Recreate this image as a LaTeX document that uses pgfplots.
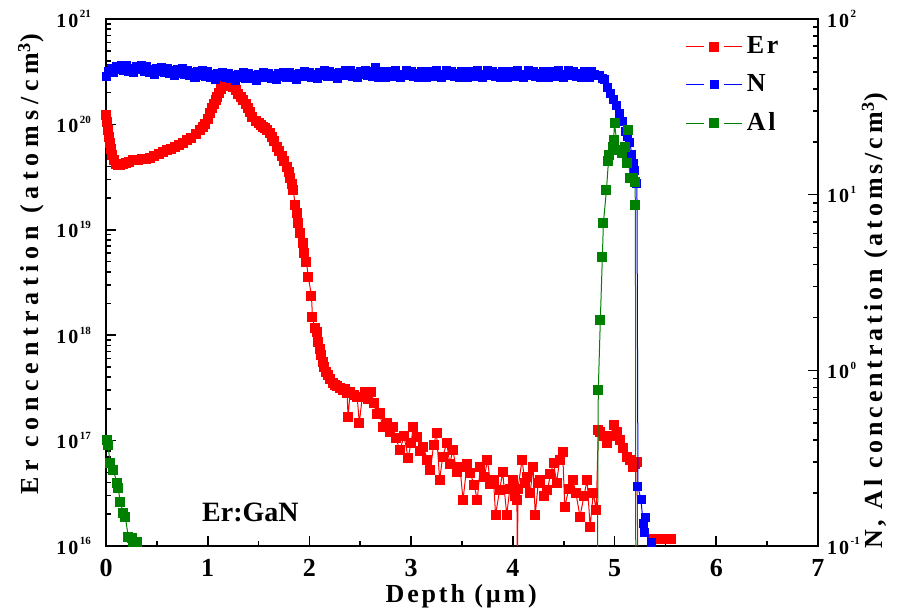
\documentclass[border=0pt]{standalone}
\usepackage{pgfplots}
\pgfplotsset{compat=1.18}
\usepackage{fontspec}
\setmainfont{Liberation Serif}
\definecolor{cred}{RGB}{255,0,0}
\definecolor{cblue}{RGB}{0,0,255}
\definecolor{cgreen}{RGB}{0,128,0}
\newcommand{\tp}[1]{1\kern1pt0\raisebox{1.0ex}{\fontsize{5.5}{5.5}\selectfont\kern0.8pt#1}}
\pgfplotsset{
  myaxis/.style={
    at={(0,0)}, anchor=south west, scale only axis,
    width=356pt, height=263.5pt,
    xmin=0, xmax=7,
    tick align=inside,
    major tick length=5pt, minor tick length=2.5pt,
    axis line style={line width=1pt},
    every tick/.style={black, line width=0.8pt},
    yticklabel style={font=\fontsize{10}{10}\selectfont\bfseries},
  },
  mylegend/.style={
    legend image code/.code={
      \draw[##1,mark=none] (0pt,0pt) -- (9pt,0pt);
      \draw[##1,mark=none] (19pt,0pt) -- (28pt,0pt);
      \draw[##1,only marks] plot coordinates {(14pt,0pt)};
    }
  }
}
\begin{document}
\begin{tikzpicture}
\path[use as bounding box] (-53pt,-32.5pt) rectangle (401.5pt,273pt);
\begin{axis}[myaxis,
  ymode=log, ymin=1e16, ymax=1e21,
  xtick={0,1,2,3,4,5,6,7}, xticklabels={0,1,2,3,4,5,6,7},
  minor x tick num=1,
  xtick pos=bottom, ytick pos=left,
  xticklabel style={font=\fontsize{13}{13}\selectfont\bfseries, yshift=-3pt},
  ytick={1e16,1e17,1e18,1e19,1e20,1e21},
  yticklabels={\tp{16},\tp{17},\tp{18},\tp{19},\tp{20},\tp{21}},
  yticklabel style={xshift=-4pt},
  minor ytick={2e16,3e16,4e16,5e16,6e16,7e16,8e16,9e16,
               2e17,3e17,4e17,5e17,6e17,7e17,8e17,9e17,
               2e18,3e18,4e18,5e18,6e18,7e18,8e18,9e18,
               2e19,3e19,4e19,5e19,6e19,7e19,8e19,9e19,
               2e20,3e20,4e20,5e20,6e20,7e20,8e20,9e20},
  xlabel={\fontsize{13}{13}\selectfont\bfseries\addfontfeatures{LetterSpace=11}Depth (µm)},
  xlabel style={at={(axis description cs:0.499,-0.095)}, anchor=center},
  ylabel={\fontsize{13}{13}\selectfont\bfseries\addfontfeatures{LetterSpace=22}Er concentration (atoms/cm\textsuperscript{3})},
  ylabel style={at={(axis description cs:-0.105,0.535)}, anchor=center},
]
\addplot[cred, line width=0.5pt, mark=square*, mark size=2.25pt, mark options={solid,fill=cred,draw=cred}] table {
0.00 1.23e20
0.01 1.05e20
0.02 8.85e19
0.03 7.60e19
0.04 6.67e19
0.05 5.80e19
0.06 5.13e19
0.08 4.60e19
0.10 4.25e19
0.12 4.15e19
0.14 4.12e19
0.17 4.25e19
0.20 4.30e19
0.23 4.40e19
0.27 4.59e19
0.31 4.55e19
0.35 4.70e19
0.39 4.65e19
0.43 4.80e19
0.47 5.00e19
0.52 5.20e19
0.56 5.45e19
0.60 5.71e19
0.64 5.85e19
0.68 6.10e19
0.72 6.40e19
0.76 6.67e19
0.80 7.10e19
0.84 7.50e19
0.88 8.10e19
0.92 8.85e19
0.95 9.40e19
0.97 1.00e20
1.00 1.12e20
1.02 1.28e20
1.04 1.42e20
1.06 1.55e20
1.08 1.70e20
1.09 1.82e20
1.11 2.00e20
1.13 2.15e20
1.15 2.30e20
1.17 2.47e20
1.20 2.64e20
1.22 2.50e20
1.24 2.38e20
1.25 2.26e20
1.28 2.10e20
1.30 1.95e20
1.33 1.82e20
1.35 1.71e20
1.38 1.55e20
1.40 1.42e20
1.42 1.30e20
1.44 1.17e20
1.47 1.08e20
1.50 1.02e20
1.52 9.80e19
1.54 9.46e19
1.56 9.20e19
1.58 8.90e19
1.61 8.28e19
1.63 7.60e19
1.65 7.00e19
1.68 6.11e19
1.70 5.60e19
1.73 5.00e19
1.75 4.50e19
1.78 3.94e19
1.80 3.50e19
1.81 3.10e19
1.83 2.70e19
1.84 2.39e19
1.86 1.72e19
1.88 1.44e19
1.89 1.16e19
1.91 9.33e18
1.94 7.50e18
1.95 6.03e18
1.97 4.94e18
1.99 3.56e18
2.02 2.36e18
2.03 1.49e18
2.05 1.17e18
2.07 1.07e18
2.08 8.61e17
2.10 7.40e17
2.11 6.49e17
2.13 5.60e17
2.14 4.99e17
2.16 4.50e17
2.18 4.19e17
2.20 3.80e17
2.23 3.52e17
2.25 3.40e17
2.27 3.30e17
2.30 3.16e17
2.33 3.00e17
2.35 3.10e17
2.37 2.83e17
2.38 1.67e17
2.40 2.90e17
2.44 2.70e17
2.47 2.59e17
2.49 1.47e17
2.52 2.60e17
2.55 2.90e17
2.58 2.50e17
2.61 2.90e17
2.63 2.28e17
2.66 1.80e17
2.69 1.83e17
2.72 1.35e17
2.76 1.47e17
2.79 1.20e17
2.82 1.35e17
2.85 1.05e17
2.89 8.15e16
2.93 1.10e17
2.97 6.90e16
3.00 9.50e16
3.02 1.35e17
3.06 1.07e17
3.09 8.00e16
3.12 8.69e16
3.16 6.50e16
3.19 5.26e16
3.22 9.00e16
3.25 1.18e17
3.28 4.23e16
3.31 7.00e16
3.35 9.48e16
3.38 6.00e16
3.41 8.15e16
3.45 5.00e16
3.48 5.62e16
3.51 2.73e16
3.55 6.00e16
3.58 4.90e16
3.62 3.80e16
3.65 2.73e16
3.68 5.62e16
3.72 4.50e16
3.75 6.55e16
3.78 3.90e16
3.81 4.23e16
3.83 1.97e16
3.87 3.39e16
3.90 5.00e16
3.94 1.97e16
3.97 3.50e16
4.00 4.23e16
4.02 3.00e16
4.04 2.73e16
4.045 5e15
4.05 3.50e16
4.09 6.55e16
4.12 4.00e16
4.14 4.50e16
4.17 3.20e16
4.20 5.62e16
4.22 1.97e16
4.25 4.00e16
4.27 4.23e16
4.31 3.00e16
4.34 3.39e16
4.37 4.80e16
4.40 6.12e16
4.43 4.00e16
4.46 6.55e16
4.49 7.80e16
4.51 2.34e16
4.55 3.50e16
4.59 4.23e16
4.62 3.18e16
4.66 1.90e16
4.70 3.00e16
4.73 4.23e16
4.76 1.51e16
4.79 3.18e16
4.82 2.20e16
4.84 1.26e17
4.86 1.20e17
4.90 1.10e17
4.93 9.48e16
4.96 1.10e17
4.99 1.40e17
5.02 1.20e17
5.05 1.01e17
5.08 8.50e16
5.12 6.98e16
5.15 6.50e16
5.18 5.62e16
5.20 6.00e16
5.22 6.27e16
5.23 5e15
5.37 1.16e16
5.47 1.16e16
5.55 1.16e16
};
\node at (axis cs:1.42,2.1e16) {\fontsize{14}{14}\selectfont\bfseries Er:GaN};
\end{axis}
\begin{axis}[myaxis, mylegend,
  hide x axis, axis y line*=right,
  ymode=log, ymin=0.1, ymax=100,
  ytick={0.1,1,10,100},
  yticklabels={\tp{-1},\tp{0},\tp{1},\tp{2}},
  yticklabel style={xshift=1pt},
  minor ytick={0.2,0.3,0.4,0.5,0.6,0.7,0.8,0.9,2,3,4,5,6,7,8,9,20,30,40,50,60,70,80,90},
  ylabel={\fontsize{13}{13}\selectfont\bfseries\addfontfeatures{LetterSpace=15}N, Al concentration (atoms/cm\textsuperscript{3})},
  ylabel style={at={(axis description cs:1.08,0.427)}, anchor=center},
  legend style={draw=none, fill=none, at={(axis description cs:0.814,0.975)}, anchor=north west,
    font=\fontsize{13}{13}\selectfont\bfseries\addfontfeatures{LetterSpace=10}, row sep=5pt, inner sep=0pt},
  legend cell align=left,
]
\addlegendimage{cred, line width=0.5pt, mark=square*, mark size=2.25pt, mark options={solid,fill=cred,draw=cred}}
\addlegendentry{Er}
\addplot[cblue, line width=0.5pt, mark=square*, mark size=2pt, mark options={solid,fill=cblue,draw=cblue}] table {
0.000 47.0
0.025 50.4
0.050 52.5
0.075 49.4
0.100 53.6
0.125 51.5
0.150 54.6
0.175 51.0
0.200 54.1
0.225 50.4
0.250 52.5
0.275 49.4
0.300 53.6
0.325 51.3
0.350 54.3
0.375 50.5
0.400 53.5
0.425 49.8
0.450 51.7
0.475 48.5
0.500 52.4
0.525 50.2
0.550 53.1
0.575 49.5
0.600 52.3
0.625 48.7
0.650 50.6
0.675 47.4
0.700 51.3
0.725 49.1
0.750 52.0
0.775 48.4
0.800 51.2
0.825 47.6
0.850 49.4
0.875 46.4
0.900 50.1
0.925 48.0
0.950 50.8
0.975 47.3
1.000 50.0
1.025 46.5
1.050 48.3
1.075 45.3
1.100 49.0
1.125 46.9
1.150 49.6
1.175 46.2
1.200 48.9
1.225 45.6
1.250 47.5
1.275 44.7
1.300 48.4
1.325 46.5
1.350 49.4
1.375 46.1
1.400 48.9
1.425 45.6
1.450 47.5
1.475 44.7
1.500 48.4
1.525 46.6
1.550 49.4
1.575 46.2
1.600 49.1
1.625 45.8
1.650 47.7
1.675 45.0
1.700 48.8
1.725 46.9
1.750 49.8
1.775 46.5
1.800 49.4
1.825 46.2
1.850 48.1
1.875 45.3
1.900 49.2
1.925 47.3
1.950 50.2
1.975 46.9
2.000 49.8
2.025 46.5
2.050 48.5
2.075 45.6
2.100 49.5
2.125 47.6
2.150 50.6
2.175 47.3
2.200 50.2
2.225 46.9
2.250 48.8
2.275 46.0
2.300 49.9
2.325 48.0
2.350 51.0
2.375 47.6
2.400 50.6
2.425 47.2
2.450 49.2
2.475 46.3
2.500 50.3
2.525 48.1
2.550 51.0
2.575 47.6
2.600 50.5
2.625 47.1
2.650 53.0
2.675 46.2
2.700 50.1
2.725 49.6
2.750 46.7
2.775 50.5
2.800 48.1
2.825 47.1
2.850 51.0
2.875 48.6
2.900 46.7
2.925 48.1
2.950 51.0
2.975 47.6
3.000 50.5
3.025 47.1
3.050 49.1
3.075 46.2
3.100 50.1
3.125 49.6
3.150 46.7
3.175 50.5
3.200 48.1
3.225 47.1
3.250 51.0
3.275 48.6
3.300 46.7
3.325 48.1
3.350 51.0
3.375 47.6
3.400 50.5
3.425 47.1
3.450 49.1
3.475 46.2
3.500 50.1
3.525 49.6
3.550 46.7
3.575 50.5
3.600 48.1
3.625 47.1
3.650 51.0
3.675 48.6
3.700 46.7
3.725 48.1
3.750 51.0
3.775 47.6
3.800 50.5
3.825 47.1
3.850 49.1
3.875 46.2
3.900 50.1
3.925 49.6
3.950 46.7
3.975 50.5
4.000 48.1
4.025 47.1
4.050 51.0
4.075 48.6
4.100 46.7
4.125 48.1
4.150 51.0
4.175 47.6
4.200 50.5
4.225 47.1
4.250 49.1
4.275 46.2
4.300 50.1
4.325 49.6
4.350 46.7
4.375 50.5
4.400 48.1
4.425 47.1
4.450 51.0
4.475 48.6
4.500 46.7
4.525 48.1
4.550 51.0
4.575 47.6
4.600 50.5
4.625 47.1
4.650 49.1
4.675 46.2
4.700 50.1
4.725 49.6
4.750 46.7
4.775 50.5
4.800 48.1
4.825 47.6
4.850 47.5
4.880 46.0
4.900 45.0
4.930 41.0
4.960 37.5
4.990 35.0
5.020 32.0
5.050 29.0
5.080 26.0
5.110 23.0
5.130 21.5
5.150 19.7
5.170 17.0
5.190 15.0
5.200 13.8
5.220 11.6
5.230 0.217
5.260 0.183
5.280 0.135
5.300 0.146
5.290 0.120
5.360 0.105
};
\addlegendentry{N}
\addplot[cgreen, line width=0.5pt, mark=square*, mark size=2.25pt, mark options={solid,fill=cgreen,draw=cgreen}] table {
0.01 0.400
0.02 0.376
0.04 0.296
0.07 0.271
0.11 0.229
0.12 0.214
0.14 0.178
0.17 0.154
0.19 0.146
0.22 0.112
0.26 0.111
0.27 0.105
0.30 0.105
0.33 0.080
0.40 0.050
4.83 0.050
4.84 0.773
4.86 1.93
4.88 4.41
4.89 6.89
4.92 10.6
4.94 15.5
4.95 16.8
4.98 18.7
4.99 20.5
5.00 25.5
5.03 17.9
5.07 17.3
5.10 18.7
5.12 15.1
5.13 23.3
5.15 12.4
5.18 12.4
5.20 11.8
5.205 8.73
5.21 0.01
};
\addlegendentry{Al}
\end{axis}
\end{tikzpicture}
\end{document}
